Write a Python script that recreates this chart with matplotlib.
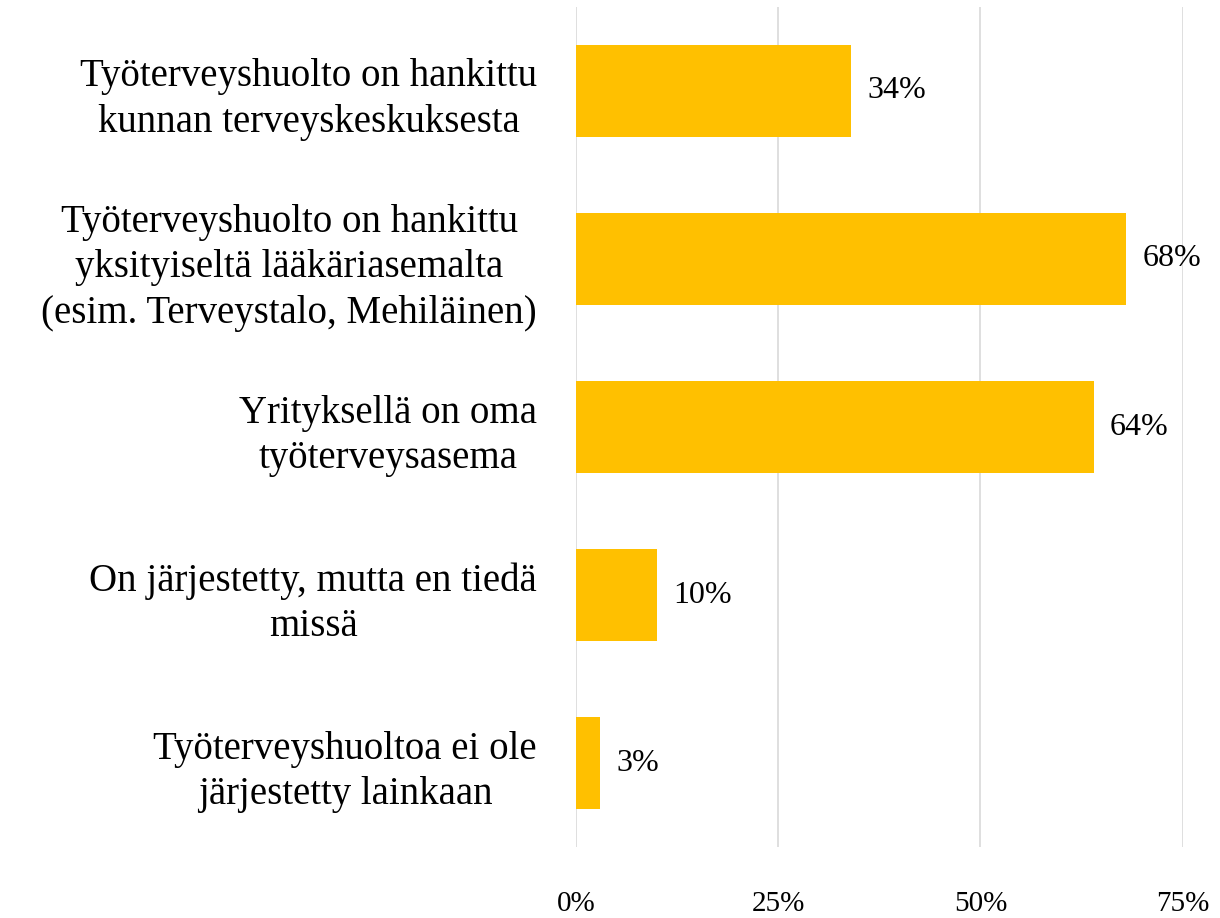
import matplotlib.pyplot as plt
from matplotlib.ticker import PercentFormatter

categories = [
    "Työterveyshuolto on hankittu\nkunnan terveyskeskuksesta",
    "Työterveyshuolto on hankittu\nyksityiseltä lääkäriasemalta\n(esim. Terveystalo, Mehiläinen)",
    "Yrityksellä on oma\ntyöterveysasema",
    "On järjestetty, mutta en tiedä\nmissä",
    "Työterveyshuoltoa ei ole\njärjestetty lainkaan",
]
values = [0.34, 0.68, 0.64, 0.10, 0.03]
xticks = [0, 0.25, 0.50, 0.75]

plt.rcParams['font.family'] = ['Liberation Serif', 'DejaVu Serif']

fig = plt.figure(figsize=(12.2, 9.18), dpi=100)
ax = fig.add_axes([0.472, 0.0773, 0.4975, 0.9151])

y = range(len(categories))
ax.barh(y, values, height=0.55, color='#FFC000', zorder=3)
for yi, v in zip(y, values):
    ax.text(v + 0.02, yi, f"{v:.0%}", va='center', ha='left', fontsize=23, color='black')

ax.set_ylim(len(categories) - 0.5, -0.5)
ax.set_yticks(list(y))
ax.set_yticklabels(categories, fontsize=28, ha='right', multialignment='center',
                   color='black', linespacing=1.3)
ax.set_xlim(0, 0.75)
ax.set_xticks(xticks)
ax.xaxis.set_major_formatter(PercentFormatter(1.0, decimals=0))
ax.tick_params(axis='x', labelsize=21, pad=32, length=0, colors='black')
ax.tick_params(axis='y', length=0, pad=28)
ax.grid(axis='x', color='#D9D9D9', linewidth=1.2, zorder=0)
for s in ax.spines.values():
    s.set_visible(False)

fig.savefig('out.png', dpi=100)
